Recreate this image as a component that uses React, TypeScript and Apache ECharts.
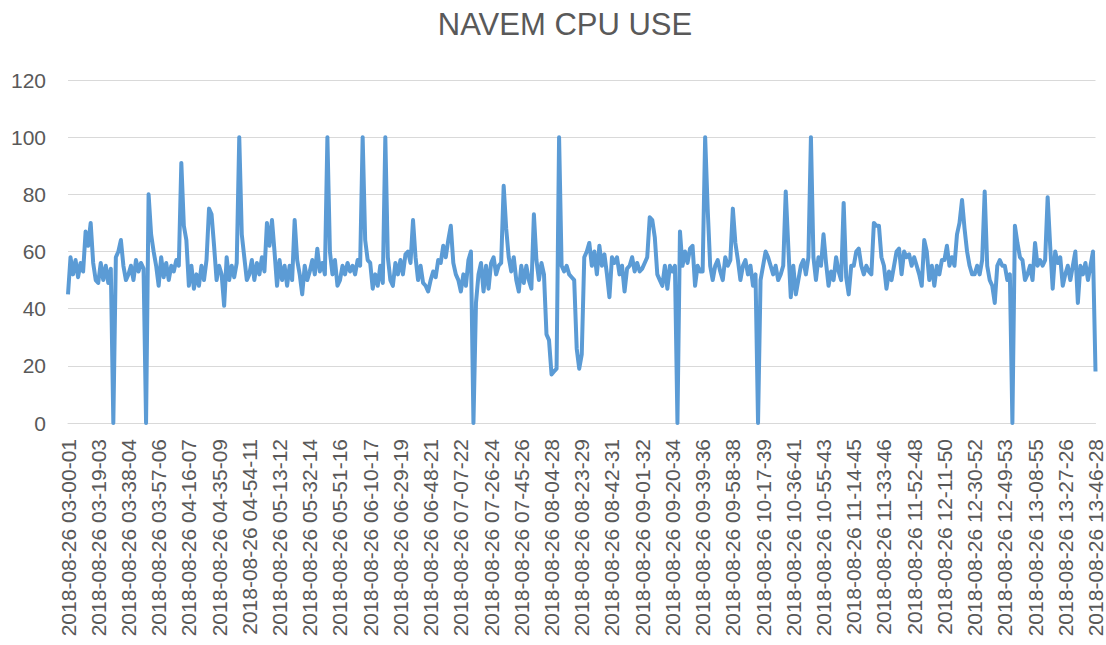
import React, { useEffect, useRef } from "react";
import * as echarts from "echarts";

const chartTitle = "NAVEM CPU USE";

const tickLabels = [
  "2018-08-26 03-00-01", "2018-08-26 03-19-03", "2018-08-26 03-38-04", "2018-08-26 03-57-06",
  "2018-08-26 04-16-07", "2018-08-26 04-35-09", "2018-08-26 04-54-11", "2018-08-26 05-13-12",
  "2018-08-26 05-32-14", "2018-08-26 05-51-16", "2018-08-26 06-10-17", "2018-08-26 06-29-19",
  "2018-08-26 06-48-21", "2018-08-26 07-07-22", "2018-08-26 07-26-24", "2018-08-26 07-45-26",
  "2018-08-26 08-04-28", "2018-08-26 08-23-29", "2018-08-26 08-42-31", "2018-08-26 09-01-32",
  "2018-08-26 09-20-34", "2018-08-26 09-39-36", "2018-08-26 09-58-38", "2018-08-26 10-17-39",
  "2018-08-26 10-36-41", "2018-08-26 10-55-43", "2018-08-26 11-14-45", "2018-08-26 11-33-46",
  "2018-08-26 11-52-48", "2018-08-26 12-11-50", "2018-08-26 12-30-52", "2018-08-26 12-49-53",
  "2018-08-26 13-08-55", "2018-08-26 13-27-26", "2018-08-26 13-46-28",
];

const pointsPerTick = 12;

// CPU use (%), 12 samples per labelled interval
const cpuUse = [
  45, 58, 52, 57, 51, 56, 53, 67, 62, 70, 56, 50,
  49, 56, 50, 55, 49, 54, 0, 58, 60, 64, 55, 50,
  52, 55, 50, 57, 53, 56, 54, 0, 80, 66, 60, 55,
  48, 58, 51, 56, 50, 55, 53, 57, 55, 91, 69, 64,
  48, 55, 47, 52, 48, 55, 50, 57, 75, 73, 62, 50,
  55, 52, 41, 58, 50, 55, 51, 56, 100, 66, 58, 50,
  52, 57, 50, 56, 52, 58, 53, 70, 62, 71, 60, 48,
  57, 50, 55, 48, 55, 50, 71, 57, 52, 45, 55, 50,
  53, 57, 52, 61, 53, 56, 52, 100, 60, 52, 57, 48,
  50, 55, 52, 56, 53, 55, 52, 57, 55, 100, 64, 57,
  56, 47, 52, 48, 55, 49, 100, 58, 50, 48, 56, 52,
  57, 52, 59, 60, 56, 71, 58, 50, 55, 49, 48, 46,
  50, 53, 51, 57, 56, 62, 58, 64, 69, 56, 52, 50,
  46, 52, 48, 57, 60, 0, 42, 52, 56, 46, 55, 47,
  56, 58, 52, 55, 56, 83, 68, 58, 53, 58, 50, 46,
  55, 49, 55, 50, 47, 73, 57, 50, 56, 52, 31, 29,
  17, 18, 19, 100, 55, 53, 55, 52, 51, 50, 26, 19,
  24, 58, 60, 63, 55, 60, 52, 62, 55, 59, 52, 44,
  58, 56, 58, 52, 55, 46, 54, 55, 58, 53, 56, 53,
  54, 56, 58, 72, 71, 65, 52, 50, 48, 55, 47, 55,
  53, 55, 0, 67, 55, 60, 56, 61, 62, 48, 55, 53,
  53, 100, 75, 55, 50, 55, 57, 53, 50, 58, 55, 57,
  75, 63, 57, 50, 55, 57, 52, 55, 48, 52, 0, 50,
  55, 60, 58, 55, 52, 55, 50, 52, 55, 81, 62, 44,
  55, 45, 50, 55, 57, 52, 58, 100, 58, 50, 58, 55,
  66, 56, 48, 53, 50, 58, 53, 50, 77, 51, 45, 55,
  55, 60, 61, 55, 52, 55, 53, 52, 70, 69, 69, 58,
  55, 47, 53, 50, 55, 60, 61, 52, 60, 58, 59, 55,
  58, 55, 52, 48, 64, 60, 50, 55, 48, 55, 52, 57,
  57, 62, 55, 58, 55, 66, 70, 78, 68, 60, 55, 52,
  52, 55, 52, 57, 81, 55, 50, 48, 42, 55, 57, 55,
  55, 50, 52, 0, 69, 63, 58, 57, 50, 52, 55, 50,
  63, 55, 57, 55, 57, 79, 62, 47, 60, 56, 58, 48,
  52, 55, 50, 55, 60, 42, 55, 52, 56, 50, 55, 60,
  18,
];

const yMin = 0;
const yMax = 120;
const yStep = 20;

function toSec(s: string): number {
  const t = s.split(" ")[1];
  const [h, m, sec] = t.split("-").map(Number);
  return h * 3600 + m * 60 + sec;
}
function pad(n: number): string {
  return n < 10 ? "0" + n : String(n);
}
function fmt(total: number): string {
  const h = Math.floor(total / 3600);
  const m = Math.floor((total % 3600) / 60);
  const s = total % 60;
  return "2018-08-26 " + pad(h) + "-" + pad(m) + "-" + pad(s);
}

const categories: string[] = [];
for (let i = 0; i < tickLabels.length - 1; i++) {
  const a = toSec(tickLabels[i]);
  const b = toSec(tickLabels[i + 1]);
  for (let k = 0; k < pointsPerTick; k++) {
    categories.push(k === 0 ? tickLabels[i] : fmt(Math.round(a + ((b - a) * k) / pointsPerTick)));
  }
}
categories.push(tickLabels[tickLabels.length - 1]);

const FONT = "'Liberation Sans', Arial, sans-serif";

export default function App() {
  const ref = useRef<HTMLDivElement>(null);
  useEffect(() => {
    if (!ref.current) return;
    const chart = echarts.init(ref.current, undefined, { renderer: "svg" });
    chart.setOption({
      animation: false,
      backgroundColor: "#ffffff",
      title: {
        text: chartTitle,
        left: 560,
        textAlign: "center",
        top: 4,
        textStyle: {
          fontFamily: FONT,
          fontSize: 31,
          fontWeight: "normal",
          color: "#595959",
        },
      },
      grid: { left: 68, right: 6, top: 80, bottom: 222, containLabel: false },
      xAxis: {
        type: "category",
        data: categories,
        boundaryGap: false,
        axisLine: { show: true, lineStyle: { color: "#D9D9D9", width: 1 } },
        axisTick: { show: false },
        axisLabel: {
          interval: pointsPerTick - 1,
          rotate: 90,
          margin: 16,
          fontFamily: FONT,
          fontSize: 21,
          color: "#595959",
        },
        splitLine: { show: false },
      },
      yAxis: {
        type: "value",
        min: yMin,
        max: yMax,
        interval: yStep,
        axisLine: { show: false },
        axisTick: { show: false },
        axisLabel: {
          margin: 22,
          fontFamily: FONT,
          fontSize: 21,
          color: "#595959",
        },
        splitLine: { show: true, lineStyle: { color: "#D9D9D9", width: 1 } },
      },
      series: [
        {
          type: "line",
          name: "CPU",
          data: cpuUse,
          showSymbol: false,
          symbol: "none",
          lineStyle: { color: "#5B9BD5", width: 4, join: "round" },
          itemStyle: { color: "#5B9BD5" },
        },
      ],
    });
    return () => chart.dispose();
  }, []);
  return (
    <div
      ref={ref}
      style={{ position: "absolute", left: 0, top: 0, width: 1106, height: 645 }}
    />
  );
}
